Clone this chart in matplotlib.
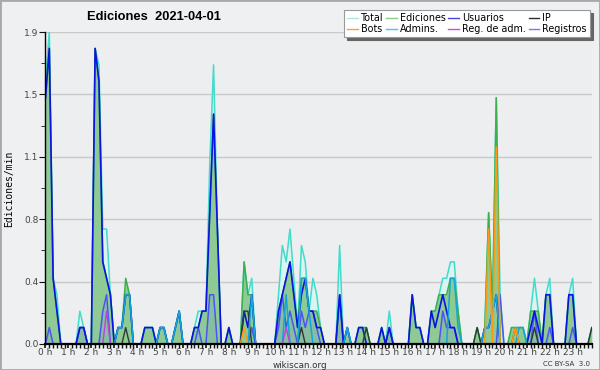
import numpy as np
import matplotlib.pyplot as plt
from matplotlib.lines import Line2D
from matplotlib.patches import Rectangle

# edits per minute, one value every 10 minutes (0h00 .. 23h50)
total = [
    1.6, 1.9, 0.4, 0.3, 0, 0,  0, 0, 0, 0.2, 0.1, 0,  0, 1.8, 1.7, 0.7, 0.7, 0.3,  0, 0.1, 0.1, 0.3, 0.3, 0,
    0, 0, 0.1, 0.1, 0.1, 0,  0.1, 0.1, 0, 0, 0.1, 0.2,  0, 0, 0, 0.1, 0.2, 0.2,  0.2, 1.1, 1.7, 0.7, 0, 0,
    0.1, 0, 0, 0, 0.5, 0.3,  0.4, 0, 0, 0, 0, 0,  0, 0.3, 0.6, 0.5, 0.7, 0.4,  0.1, 0.6, 0.5, 0.2, 0.4, 0.3,
    0.1, 0, 0, 0, 0, 0.6,  0, 0.1, 0, 0, 0.1, 0.1,  0.1, 0, 0, 0, 0.1, 0,  0.2, 0, 0, 0, 0, 0,
    0.3, 0.1, 0.1, 0, 0, 0.2,  0.2, 0.3, 0.4, 0.4, 0.5, 0.5,  0.2, 0, 0, 0, 0, 0.1,  0, 0.1, 0.8, 0.2, 1.5, 0.3,
    0, 0, 0.1, 0.1, 0.1, 0.1,  0, 0.2, 0.4, 0.2, 0, 0.3,  0.4, 0, 0, 0, 0, 0.3,  0.4, 0, 0, 0, 0, 0.1,
]
ediciones = [
    1.5, 1.8, 0.4, 0.2, 0, 0,  0, 0, 0, 0.1, 0.1, 0,  0, 1.8, 1.6, 0.5, 0.4, 0.3,  0, 0.1, 0.1, 0.4, 0.3, 0,
    0, 0, 0.1, 0.1, 0.1, 0,  0.1, 0.1, 0, 0, 0.1, 0.2,  0, 0, 0, 0.1, 0.1, 0.2,  0.2, 0.8, 1.4, 0.7, 0, 0,
    0.1, 0, 0, 0, 0.5, 0.3,  0.3, 0, 0, 0, 0, 0,  0, 0.2, 0.3, 0.4, 0.5, 0.3,  0.1, 0.4, 0.4, 0.2, 0.2, 0.2,
    0.1, 0, 0, 0, 0, 0.3,  0, 0.1, 0, 0, 0.1, 0.1,  0.1, 0, 0, 0, 0.1, 0,  0.1, 0, 0, 0, 0, 0,
    0.3, 0.1, 0.1, 0, 0, 0.2,  0.2, 0.3, 0.3, 0.3, 0.4, 0.4,  0.2, 0, 0, 0, 0, 0.1,  0, 0.1, 0.8, 0.2, 1.5, 0,
    0, 0, 0.1, 0.1, 0.1, 0.1,  0, 0.2, 0.2, 0.2, 0, 0.3,  0.3, 0, 0, 0, 0, 0.3,  0.3, 0, 0, 0, 0, 0.1,
]
usuarios = [
    1.5, 1.8, 0.4, 0.2, 0, 0,  0, 0, 0, 0.1, 0.1, 0,  0, 1.8, 1.6, 0.5, 0.4, 0.3,  0, 0.1, 0.1, 0.3, 0.3, 0,
    0, 0, 0.1, 0.1, 0.1, 0,  0.1, 0.1, 0, 0, 0.1, 0.2,  0, 0, 0, 0.1, 0.1, 0.2,  0.2, 0.8, 1.4, 0.7, 0, 0,
    0.1, 0, 0, 0, 0.2, 0.1,  0.3, 0, 0, 0, 0, 0,  0, 0.2, 0.3, 0.4, 0.5, 0.3,  0.1, 0.3, 0.4, 0.2, 0.2, 0.1,
    0.1, 0, 0, 0, 0, 0.3,  0, 0.1, 0, 0, 0.1, 0.1,  0, 0, 0, 0, 0.1, 0,  0.1, 0, 0, 0, 0, 0,
    0.3, 0.1, 0.1, 0, 0, 0.2,  0.1, 0.2, 0.3, 0.2, 0.1, 0.1,  0, 0, 0, 0, 0, 0,  0, 0.1, 0.1, 0.2, 0.3, 0,
    0, 0, 0, 0, 0, 0,  0, 0.1, 0.2, 0.1, 0, 0.3,  0.3, 0, 0, 0, 0, 0.3,  0.3, 0, 0, 0, 0, 0,
]
ip = [
    0, 0, 0, 0, 0, 0,  0, 0, 0, 0, 0, 0,  0, 0, 0, 0, 0, 0,  0, 0, 0, 0.1, 0, 0,
    0, 0, 0, 0, 0, 0,  0, 0, 0, 0, 0, 0,  0, 0, 0, 0, 0, 0,  0, 0, 0, 0, 0, 0,
    0, 0, 0, 0, 0.2, 0.2,  0, 0, 0, 0, 0, 0,  0, 0, 0, 0, 0, 0,  0, 0.1, 0, 0, 0, 0,
    0, 0, 0, 0, 0, 0,  0, 0, 0, 0, 0, 0,  0.1, 0, 0, 0, 0, 0,  0, 0, 0, 0, 0, 0,
    0, 0, 0, 0, 0, 0,  0, 0, 0, 0, 0, 0,  0, 0, 0, 0, 0, 0.1,  0, 0, 0, 0, 0, 0,
    0, 0, 0, 0.1, 0, 0,  0, 0, 0.1, 0, 0, 0,  0, 0, 0, 0, 0, 0,  0, 0, 0, 0, 0, 0.1,
]
bots = [
    0, 0, 0, 0, 0, 0,  0, 0, 0, 0, 0, 0,  0, 0, 0, 0, 0, 0,  0, 0, 0, 0, 0, 0,
    0, 0, 0, 0, 0, 0,  0, 0, 0, 0, 0, 0,  0, 0, 0, 0, 0, 0,  0, 0, 0, 0, 0, 0,
    0, 0, 0, 0, 0.1, 0,  0, 0, 0, 0, 0, 0,  0, 0, 0, 0, 0, 0,  0, 0, 0, 0, 0, 0,
    0, 0, 0, 0, 0, 0,  0, 0, 0, 0, 0, 0,  0, 0, 0, 0, 0, 0,  0, 0, 0, 0, 0, 0,
    0, 0, 0, 0, 0, 0,  0, 0, 0, 0, 0, 0,  0, 0, 0, 0, 0, 0,  0, 0, 0.7, 0, 1.2, 0,
    0, 0, 0, 0.1, 0, 0,  0, 0, 0, 0, 0, 0,  0, 0, 0, 0, 0, 0,  0, 0, 0, 0, 0, 0,
]
admins = [
    0, 0, 0, 0, 0, 0,  0, 0, 0, 0, 0, 0,  0, 0, 0, 0, 0, 0,  0, 0.1, 0.1, 0.3, 0.3, 0,
    0, 0, 0, 0, 0, 0,  0.1, 0.1, 0, 0, 0.1, 0.2,  0, 0, 0, 0, 0, 0,  0, 0, 0, 0, 0, 0,
    0, 0, 0, 0, 0, 0,  0.3, 0, 0, 0, 0, 0,  0, 0, 0, 0.3, 0, 0,  0, 0.4, 0.4, 0.2, 0, 0,
    0, 0, 0, 0, 0, 0,  0, 0.1, 0, 0, 0, 0,  0, 0, 0, 0, 0, 0,  0, 0, 0, 0, 0, 0,
    0, 0, 0, 0, 0, 0,  0, 0, 0, 0, 0.4, 0.4,  0.1, 0, 0, 0, 0, 0,  0, 0.1, 0.1, 0.2, 0.3, 0,
    0, 0, 0, 0, 0.1, 0.1,  0, 0, 0, 0, 0, 0,  0, 0, 0, 0, 0, 0,  0, 0, 0, 0, 0, 0,
]
reg_adm = [
    0, 0, 0, 0, 0, 0,  0, 0, 0, 0, 0, 0,  0, 0, 0, 0, 0.2, 0,  0, 0, 0, 0, 0, 0,
    0, 0, 0, 0, 0, 0,  0, 0, 0, 0, 0, 0,  0, 0, 0, 0, 0, 0,  0, 0, 0, 0, 0, 0,
    0, 0, 0, 0, 0, 0,  0, 0, 0, 0, 0, 0,  0, 0, 0, 0.1, 0, 0,  0, 0, 0, 0, 0, 0,
    0, 0, 0, 0, 0, 0,  0, 0, 0, 0, 0, 0,  0, 0, 0, 0, 0, 0,  0, 0, 0, 0, 0, 0,
    0, 0, 0, 0, 0, 0,  0, 0, 0, 0, 0, 0,  0, 0, 0, 0, 0, 0,  0, 0, 0, 0, 0, 0,
    0, 0, 0, 0, 0, 0,  0, 0, 0, 0, 0, 0,  0, 0, 0, 0, 0, 0,  0, 0, 0, 0, 0, 0,
]
registros = [
    0, 0.1, 0, 0, 0, 0,  0, 0, 0, 0.1, 0.1, 0,  0, 0, 0, 0.2, 0.3, 0,  0, 0, 0, 0, 0, 0,
    0, 0, 0, 0, 0, 0,  0, 0, 0, 0, 0, 0,  0, 0, 0, 0, 0.1, 0,  0, 0.3, 0.3, 0, 0, 0,
    0, 0, 0, 0, 0, 0,  0.1, 0, 0, 0, 0, 0,  0, 0.1, 0.3, 0.1, 0.2, 0.1,  0, 0.2, 0.1, 0.2, 0.2, 0.1,
    0, 0, 0, 0, 0, 0.3,  0, 0, 0, 0, 0, 0,  0, 0, 0, 0, 0, 0,  0.1, 0, 0, 0, 0, 0,
    0, 0, 0, 0, 0, 0,  0, 0, 0.2, 0.1, 0.1, 0.1,  0, 0, 0, 0, 0, 0,  0, 0, 0, 0, 0, 0.3,
    0, 0, 0, 0, 0, 0,  0, 0, 0.2, 0, 0, 0,  0.1, 0, 0, 0, 0, 0,  0.1, 0, 0, 0, 0, 0,
]
hour_labels = [f'{h} h' for h in range(24)]
legend_labels = ['Total', 'Bots', 'Ediciones', 'Admins.', 'Usuarios', 'Reg. de adm.', 'IP', 'Registros']
legend_colors = ['#aee6e2', '#f7a040', '#86d08a', '#4cc6dc', '#4848dc', '#c84ee0', '#303030', '#7878ee']

x = np.arange(len(total))

fig = plt.figure(figsize=(6, 3.7), dpi=100, facecolor='#eff0f1')
ax = fig.add_axes([0.0758, 0.0703, 0.9105, 0.8432], facecolor='#edeef0')

ax.fill_between(x, total, color='#dcf4ef', lw=0)
ax.fill_between(x, ediciones, color='#8fca95', lw=0)
ax.fill_between(x, registros, color='#5060f0', alpha=0.12, lw=0)
ax.plot(x, total, color='#40dccc', lw=1.1)
ax.plot(x, ediciones, color='#3cb04a', lw=1.1)
ax.plot(x, registros, color='#4a55f5', lw=1.1)
ax.plot(x, usuarios, color='#0a14e0', lw=1.2)
ax.plot(x, ip, color='#2e3a30', lw=1.0)
ax.plot(x, admins, color='#12a6da', lw=1.1)
ax.plot(x, reg_adm, color='#c040e0', lw=1.0)
ax.plot(x, bots, color='#ff9a10', lw=1.1)

ax.set_xlim(0, len(total) - 1)
ax.set_ylim(0, 1.9)
ax.set_xticks(np.arange(0, len(total), 6))
ax.set_xticklabels(hour_labels)
ax.set_xticks(x, minor=True)
yt = np.arange(6) * 0.38
ax.set_yticks(yt)
ax.set_yticklabels([f'{v:.1f}' for v in yt])
ax.set_yticks(np.arange(11) * 0.19, minor=True)
ax.tick_params(axis='both', which='both', direction='out', labelsize=6.5,
               colors='#111111', labelcolor='#444444', pad=1)
ax.tick_params(axis='x', which='major', length=3, width=1.2, pad=0)
ax.tick_params(axis='x', which='minor', length=3, width=1.0)
ax.tick_params(axis='y', which='major', length=4)
ax.tick_params(axis='y', which='minor', length=3)
ax.grid(axis='y', which='major', color='#c9c9c9', lw=1)
ax.set_axisbelow(True)
for s in ['top', 'right']:
    ax.spines[s].set_visible(False)
ax.spines['bottom'].set_linewidth(1.6)
ax.spines['left'].set_linewidth(1.0)

fig.text(0.256, 0.955, 'Ediciones  2021-04-01', ha='center', va='center',
         fontsize=9.3, fontweight='bold', family='Liberation Sans')
fig.text(0.015, 0.49, 'Ediciones/min', rotation=90, ha='center', va='center',
         fontsize=7, family='DejaVu Sans Mono')
fig.text(0.5, 0.013, 'wikiscan.org', ha='center', va='center', fontsize=6.3, color='#333333')
fig.text(0.983, 0.016, 'CC BY-SA  3.0', ha='right', va='center', fontsize=5, color='#333333')

handles = [Line2D([], [], color=c, lw=1) for c in legend_colors]
leg = fig.legend(handles, legend_labels, ncol=4, loc='upper right',
                 bbox_to_anchor=(0.983, 0.973), fontsize=6.9, handlelength=1.1,
                 handletextpad=0.35, columnspacing=0.25, borderpad=0.3,
                 labelspacing=0.15, fancybox=False, edgecolor='#999999',
                 framealpha=1, shadow={'color': '#666666', 'alpha': 1},
                 borderaxespad=0)
leg.get_frame().set_linewidth(0.8)

fig.patches.append(Rectangle((0, 0), 1, 1, transform=fig.transFigure, fill=False,
                             edgecolor='#a8a8a8', lw=2))

fig.savefig('out.png', dpi=100, facecolor=fig.get_facecolor())
